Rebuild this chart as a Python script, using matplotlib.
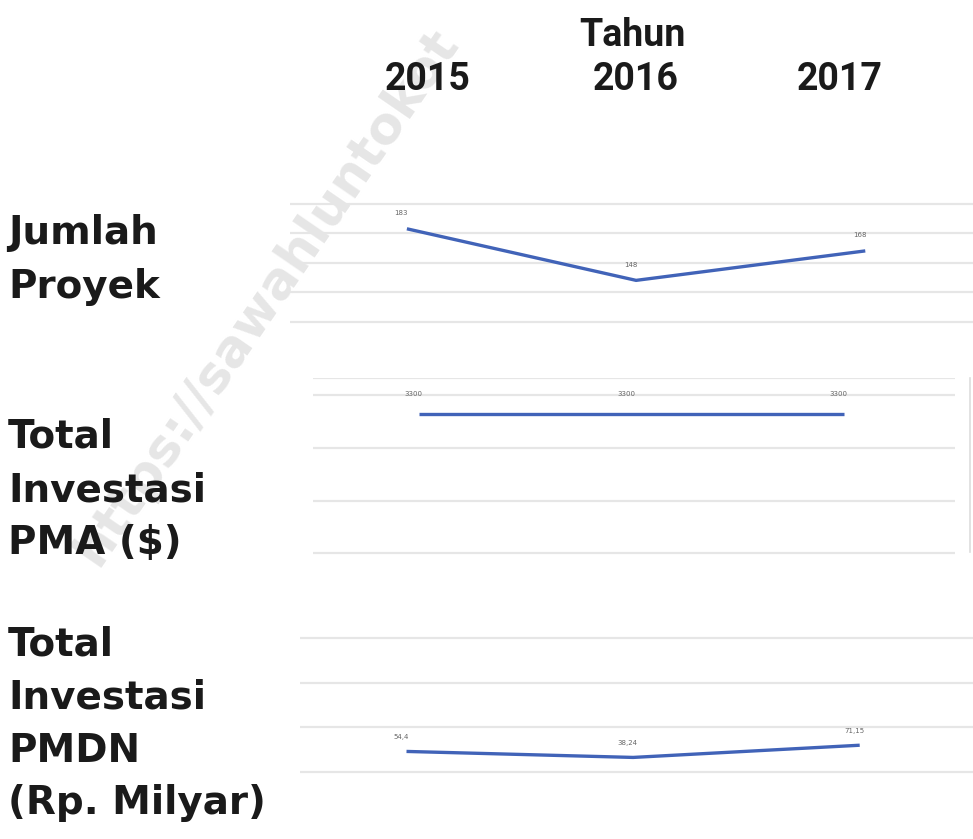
import matplotlib
matplotlib.use("Agg")
import matplotlib.pyplot as plt

tahun = ["2015", "2016", "2017"]
jumlah_proyek = [183, 148, 168]
jumlah_label = ["183", "148", "168"]
investasi_pma = [3300, 3300, 3300]
pma_label = ["3300", "3300", "3300"]
investasi_pmdn = [54.4, 38.24, 71.15]
pmdn_label = ["54,4", "38,24", "71,15"]

W, H = 973, 839
fig = plt.figure(figsize=(W / 100, H / 100), dpi=100)
fig.patch.set_facecolor("white")

line_color = "#4163b8"
grid_color = "#e6e6e6"
lbl_color = "#666666"


def box(x0, y0, x1, y1):
    # pixel box (top-left origin) -> figure fraction
    return [x0 / W, 1 - y1 / H, (x1 - x0) / W, (y1 - y0) / H]


def panel(rect, vals, labels, xlim, ylim, ticks, dy):
    ax = fig.add_axes(rect)
    x = list(range(len(vals)))
    ax.plot(x, vals, color=line_color, lw=2.4, solid_capstyle="butt", zorder=3)
    for xi, v, t in zip(x, vals, labels):
        ax.annotate(t, (xi, v), xytext=(-4, dy), textcoords="offset points",
                    ha="center", va="bottom", fontsize=5, color=lbl_color)
    ax.set_xlim(*xlim)
    ax.set_ylim(*ylim)
    ax.set_yticks(ticks)
    ax.yaxis.grid(True, color=grid_color, lw=1.6)
    ax.tick_params(left=False, bottom=False, labelleft=False, labelbottom=False)
    ax.patch.set_alpha(0)
    for s in ax.spines.values():
        s.set_visible(False)
    ax.set_axisbelow(True)
    return ax


# watermark, drawn first so everything sits on top of it
fig.text(98 / W, 1 - 568 / H, "https://sawahluntokot", fontsize=37,
         fontweight="bold", family="DejaVu Sans", color="#e6e6e6", rotation=55.5,
         rotation_mode="anchor", ha="left", va="baseline", zorder=0)

panel(box(290, 189, 973, 329), jumlah_proyek, jumlah_label,
      (-0.51, 2.47), (115, 210), [120, 140, 160, 180, 200], 9)

ax2 = panel(box(313, 378, 955, 555), investasi_pma, pma_label,
            (-0.5, 2.52), (-40, 4150), [0, 1250, 2500, 3750], 12)
ax2.axhline(ax2.get_ylim()[1], color=grid_color, lw=1.6)
fig.add_artist(plt.Line2D([970 / W, 970 / W], [1 - 552 / H, 1 - 378 / H],
                          color="#dddddd", lw=1.2))

panel(box(300, 627, 973, 792), investasi_pmdn, pmdn_label,
      (-0.47, 2.5), (-55, 390), [0, 120, 240, 360], 8)

# header
hdr = dict(fontsize=27, fontweight="bold", family="Roboto", color="#1a1a1a",
           ha="center", va="center")
fig.text(632 / W, 1 - 35 / H, "Tahun", **hdr)
for xp, t in zip([428, 636, 840], tahun):
    fig.text(xp / W, 1 - 79 / H, t, **hdr)

# row titles
side = dict(fontsize=28, fontweight="bold", family="DejaVu Sans", color="#1a1a1a",
            ha="left", va="center", linespacing=1.5)
fig.text(8 / W, 1 - 260 / H, "Jumlah\nProyek", **side)
fig.text(8 / W, 1 - 490 / H, "Total\nInvestasi\nPMA ($)", **side)
fig.text(8 / W, 1 - 724 / H, "Total\nInvestasi\nPMDN\n(Rp. Milyar)", **side)

fig.savefig("out.png", dpi=100, facecolor="white")
